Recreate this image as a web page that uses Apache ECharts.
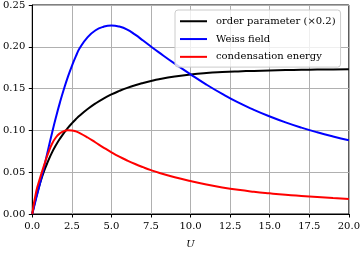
<!DOCTYPE html>
<html>
<head>
<meta charset="utf-8">
<script src="https://cdn.jsdelivr.net/npm/echarts@6/dist/echarts.min.js"></script>
<style>
html,body{margin:0;padding:0;background:#fff;}
#chart{width:363px;height:254px;}
</style>
</head>
<body>
<div id="chart"></div>
<script>
const U = [0,0.25,0.5,0.75,1,1.25,1.5,1.75,2,2.25,2.5,2.75,3,3.5,4,4.5,5,5.5,6,6.5,7,7.5,8,9,10,11,12,13,14,15,16,17,18,19,20];
const orderParam = [0,0.0205,0.0375,0.0515,0.0632,0.0737,0.0825,0.0902,0.097,0.103,0.1084,0.1133,0.1178,0.1256,0.1323,0.1381,0.143,0.1472,0.1509,0.154,0.1567,0.1591,0.1612,0.1645,0.167,0.1687,0.1698,0.1706,0.1712,0.1717,0.1721,0.1724,0.1727,0.1729,0.1731];
const weissField = [0,0.019,0.0375,0.0565,0.077,0.097,0.116,0.1335,0.1495,0.164,0.177,0.1885,0.1985,0.2115,0.2198,0.224,0.2255,0.2242,0.2206,0.2145,0.2075,0.2003,0.1933,0.1798,0.167,0.1548,0.1436,0.1334,0.1246,0.1167,0.1096,0.1033,0.0977,0.0927,0.0882];
const condEnergy = [0,0.027,0.0435,0.0585,0.0725,0.084,0.0918,0.0965,0.0992,0.1002,0.1,0.0988,0.0968,0.0915,0.0855,0.0795,0.0738,0.0686,0.064,0.0598,0.056,0.0525,0.0494,0.044,0.0394,0.0353,0.0318,0.0289,0.0266,0.0247,0.023,0.0216,0.0203,0.019,0.0178];
const seriesNames = ['order parameter (\u00d70.2)','Weiss field','condensation energy'];
const seriesColors = ['#000000','#0000ff','#ff0000'];
const xTicks = {min:0,max:20,interval:2.5};
const yTicks = {min:0,max:0.25,interval:0.05};

const FONT = 'DejaVu Serif';
const pairs = arr => U.map((u,i)=>[u,arr[i]]);
const datasets = [orderParam, weissField, condEnergy];

const chart = echarts.init(document.getElementById('chart'), null, {renderer:'canvas'});
chart.setOption({
  animation:false,
  backgroundColor:'#ffffff',
  grid:{left:31.5,right:11.5,top:4.5,bottom:36,show:true,borderColor:'#000',borderWidth:1,backgroundColor:'transparent'},
  legend:{
    left:175, top:10,
    orient:'vertical',
    icon:'rect', itemWidth:27, itemHeight:2, itemGap:5.3,
    padding:[5,5,4,5],
    backgroundColor:'rgba(255,255,255,0.8)',
    borderColor:'#cccccc', borderWidth:1, borderRadius:3,
    textStyle:{fontFamily:FONT,fontSize:10,color:'#000',lineHeight:12.5,padding:[0,0,0,4]},
    data:seriesNames
  },
  xAxis:{
    type:'value', min:xTicks.min, max:xTicks.max, interval:xTicks.interval,
    name:'U', nameLocation:'middle', nameGap:25,
    nameTextStyle:{fontFamily:FONT,fontSize:10,fontStyle:'italic',color:'#000'},
    axisLine:{show:true,lineStyle:{color:'#000',width:1}},
    axisTick:{show:true,length:3.5,lineStyle:{color:'#000'}},
    axisLabel:{fontFamily:FONT,fontSize:10,color:'#000',margin:7,formatter:v=>v.toFixed(1)},
    splitLine:{show:true,lineStyle:{color:'#b0b0b0',width:1}}
  },
  yAxis:{
    type:'value', min:yTicks.min, max:yTicks.max, interval:yTicks.interval,
    axisLine:{show:true,lineStyle:{color:'#000',width:1}},
    axisTick:{show:true,length:3.5,lineStyle:{color:'#000'}},
    axisLabel:{fontFamily:FONT,fontSize:10,color:'#000',margin:7,formatter:v=>v.toFixed(2)},
    splitLine:{show:true,lineStyle:{color:'#b0b0b0',width:1}}
  },
  series: datasets.map((d,i)=>({
    name:seriesNames[i], type:'line', data:pairs(d),
    showSymbol:false, smooth:0.5,
    lineStyle:{color:seriesColors[i],width:2},
    itemStyle:{color:seriesColors[i]},
    z:2
  }))
});
</script>
</body>
</html>
